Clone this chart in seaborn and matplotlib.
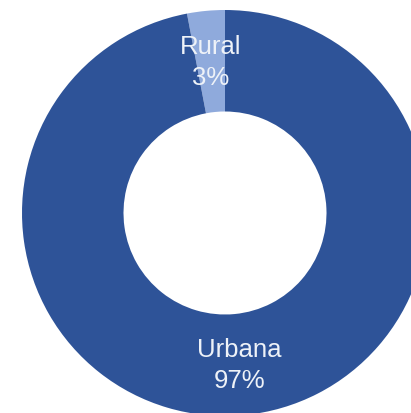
import matplotlib
matplotlib.use("Agg")
import matplotlib.pyplot as plt
import seaborn as sns

# Population share by area type
categories = ["Rural", "Urbana"]
shares = [3, 97]
colors = ["#8FAADC", "#2E5398"]

sns.set_theme(style="white")
plt.rcParams["font.family"] = ["Liberation Sans", "DejaVu Sans"]

fig = plt.figure(figsize=(4.11, 4.14), dpi=100)
ax = fig.add_axes([0, 0, 1, 1])

label_iter = iter(f"{c}\n{v}%" for c, v in zip(categories, shares))

wedges, texts, autotexts = ax.pie(
    shares,
    colors=colors,
    startangle=90,
    counterclock=True,
    radius=1.0,
    wedgeprops=dict(width=0.5, edgecolor="none"),
    autopct=lambda pct: next(label_iter),
    pctdistance=0.75,
    textprops=dict(color="#EEF2F8", fontsize=18.5, linespacing=1.35),
)

# Ring is partly cut off at the right and bottom edges
r_px = 203.0
cx, cy = 225.0, 414 - 214.0
ax.set_xlim(-cx / r_px, (411 - cx) / r_px)
ax.set_ylim(-cy / r_px, (414 - cy) / r_px)
ax.set_aspect("auto")
ax.axis("off")

fig.savefig("out.png", dpi=100, facecolor="white")
